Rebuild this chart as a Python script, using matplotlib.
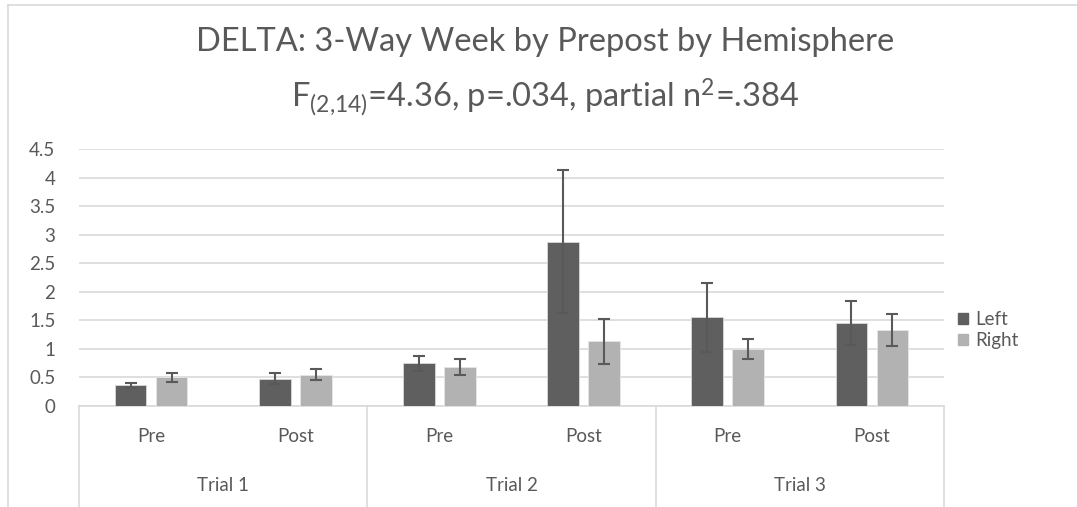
import matplotlib
matplotlib.use("Agg")
import matplotlib.pyplot as plt
from matplotlib.lines import Line2D
from matplotlib.patches import Patch

plt.rcParams['font.family'] = ['Lato', 'DejaVu Sans']
plt.rcParams['mathtext.fontset'] = 'custom'
plt.rcParams['mathtext.rm'] = 'Lato'
plt.rcParams['mathtext.it'] = 'Lato'

# data
trials = ["Trial 1", "Trial 2", "Trial 3"]
phases = ["Pre", "Post"]
left = [0.36, 0.48, 0.75, 2.88, 1.55, 1.45]
right = [0.50, 0.55, 0.68, 1.13, 1.00, 1.33]
left_err = [0.05, 0.09, 0.13, 1.26, 0.60, 0.39]
right_err = [0.08, 0.09, 0.145, 0.40, 0.17, 0.285]
yticks = [0, 0.5, 1, 1.5, 2, 2.5, 3, 3.5, 4, 4.5]

txt = "#595959"
W, H = 1077, 507
fig = plt.figure(figsize=(W / 100, H / 100), dpi=100)
x0, x1, y0, y1 = 79, 944, 406, 149
ax = fig.add_axes([x0 / W, 1 - y0 / H, (x1 - x0) / W, (y0 - y1) / H])

xs = list(range(len(left)))
bw = 0.22
off = 0.142
ekw = dict(ecolor="#595959", elinewidth=1.5, capsize=4, capthick=1.5)
ax.bar([x - off for x in xs], left, bw, color="#5f5f5f", edgecolor="#d9d9d9",
       linewidth=0.6, yerr=left_err, error_kw=ekw, label="Left", zorder=3)
ax.bar([x + off for x in xs], right, bw, color="#b2b2b2", edgecolor="#e6e6e6",
       linewidth=0.6, yerr=right_err, error_kw=ekw, label="Right", zorder=3)

ax.set_xlim(-0.5, len(xs) - 0.5)
ax.set_ylim(0, 4.5)
ax.set_yticks(yticks)
ax.set_yticklabels(["0", "0.5", "1", "1.5", "2", "2.5", "3", "3.5", "4", "4.5"])
ax.yaxis.grid(True, color="#d9d9d9", linewidth=1.2, zorder=0)
ax.set_axisbelow(True)
for s in ["top", "right", "left"]:
    ax.spines[s].set_visible(False)
ax.spines["bottom"].set_color("#d9d9d9")
ax.spines["bottom"].set_linewidth(1.2)
ax.tick_params(axis="y", length=0, labelsize=13.5, labelcolor=txt, pad=17)
ax.tick_params(axis="x", length=0, labelbottom=False)

# multi-level category axis
tr = ax.get_xaxis_transform()
for i, x in enumerate(xs):
    ax.text(x, -0.12, phases[i % 2], transform=tr, ha="center", va="center",
            fontsize=13.5, color=txt)
for j, t in enumerate(trials):
    ax.text(2 * j + 0.5, -0.31, t, transform=tr, ha="center", va="center",
            fontsize=13.5, color=txt)
for b in [-0.5, 1.5, 3.5, 5.5]:
    ax.add_line(Line2D([b, b], [0, -0.42], transform=tr, color="#d9d9d9",
                       linewidth=1.2, clip_on=False))

# chart border
fig.add_artist(Line2D([8 / W, 8 / W], [0, 1 - 5 / H], color="#d9d9d9", linewidth=1.2))
fig.add_artist(Line2D([8 / W, 1], [1 - 5 / H, 1 - 5 / H], color="#d9d9d9", linewidth=1.2))

fig.text(0.5065, 1 - 42 / H, "DELTA: 3-Way Week by Prepost by Hemisphere",
         ha="center", va="center", fontsize=23.5, color=txt)
fig.text(0.5065, 1 - 97 / H, r"F$_{(2{,}14)}$=4.36, p=.034, partial n$^{2}$=.384",
         ha="center", va="center", fontsize=23.5, color=txt)

handles = [Patch(color="#5f5f5f"), Patch(color="#b2b2b2")]
fig.legend(handles, ["Left", "Right"], loc="center left",
           bbox_to_anchor=(941 / W, 1 - 330 / H), frameon=False,
           fontsize=13.5, labelcolor=txt, handlelength=0.55, handleheight=0.55,
           handletextpad=0.4, labelspacing=0.2)

fig.savefig("out.png", dpi=100, facecolor="white")
